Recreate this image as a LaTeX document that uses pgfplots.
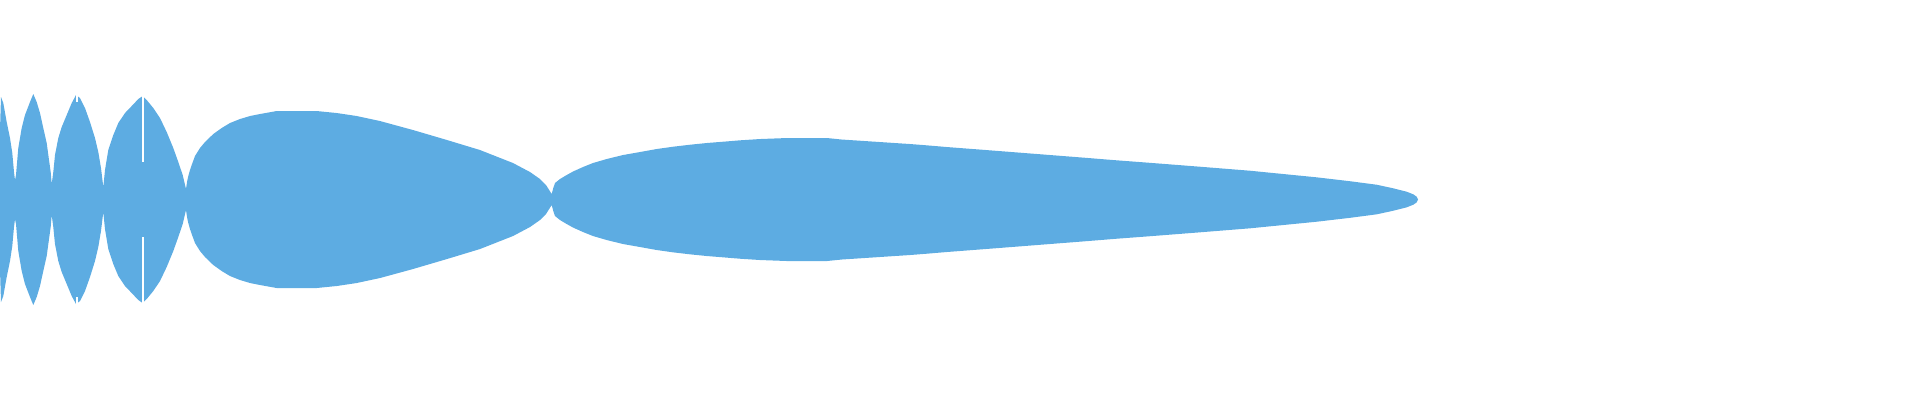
\documentclass[border=0pt]{standalone}
\usepackage{pgfplots}
\pgfplotsset{compat=1.18}
\definecolor{fillc}{HTML}{5DACE2}
\begin{document}
\begin{tikzpicture}
\begin{axis}[
  hide axis, scale only axis, width=19.2cm, height=4cm,
  xmin=0, xmax=1920, ymin=0, ymax=400, y dir=reverse,
  clip=true]
\addplot[fill=fillc, draw=none] coordinates {
(0,130)(1,97)(3.3,103)(6.7,122)(10,138)(12.3,153)(14,172)(15,180)(16,175)(18.3,148)(21.7,128)(25,115)(30,102)(33.3,94)(36.7,102)(40,113)(43.3,128)(46.7,143)(49.3,162)(50.7,172)(51.7,184)(53.3,172)(55,155)(58.3,138)(61.7,127)(66.7,115)(71.7,103)(76,95)(80,98)(85,108)(90,122)(95,138)(98.3,152)(101,168)(103.3,187)(105,170)(108.3,150)(113.3,135)(118.3,123)(125,113)(131.7,106)(138.3,99)(142.7,96)(146.7,100)(153.3,108)(160,118)(166.7,132)(173.3,148)(178.3,162)(182.7,175)(186,189)(187.2,181)(188.3,176)(190,170)(191.7,165)(195,156)(200,148)(205,142)(213.3,134)(221.7,128)(230,123)(240,119)(250,116)(260,114)(276.7,111)(316.7,111)(336.7,113)(356.7,116)(380,121)(413,130)(447,140)(480,150)(513,163)(530,172)(540,179)(546,185)(551.7,194)
(553.3,188)(555,183)(560,179)(566.7,175)(573,171.5)(583,167)(593,163)(606.7,159)(623,155)(640,152)(656.7,149)(673,146.7)(690,144.7)(706.7,143)(723,141.7)(740,140.3)(760,139)(787,138)(827,138)(841.7,139.5)(860,140.7)(876.7,141.8)(893.3,142.9)(910,144)(926.7,145.3)(946.7,147)(983.3,149.8)(1016.7,152.4)(1050,155)(1083.3,157.6)(1116.7,160.3)(1150,162.8)(1200,166.7)(1250,170.7)(1283.3,174)(1316.7,177.3)(1350,181.2)(1376.7,184.7)(1393.3,188.3)(1406.7,191.7)(1413.3,194.3)(1416.7,196.7)(1418,199.5)
(1416.7,202.3)(1413.3,204.7)(1406.7,207.3)(1393.3,210.7)(1376.7,214.3)(1350,217.8)(1316.7,221.7)(1283.3,225)(1250,228.3)(1200,232.3)(1150,236.2)(1116.7,238.7)(1083.3,241.4)(1050,244)(1016.7,246.6)(983.3,249.2)(946.7,252)(926.7,253.7)(910,255)(893.3,256.1)(876.7,257.2)(860,258.3)(841.7,259.5)(827,261)(787,261)(760,260)(740,258.7)(723,257.3)(706.7,256)(690,254.3)(673,252.3)(656.7,250)(640,247)(623,244)(606.7,240)(593,236)(583,232)(573,227.5)(566.7,224)(560,220)(555,216)(553.3,211)
(551.7,205)(546,214)(540,220)(530,227)(513,236)(480,249)(447,259)(413,269)(380,278)(356.7,283)(336.7,286)(316.7,288)(276.7,288)(260,285)(250,283)(240,280)(230,276)(221.7,271)(213.3,265)(205,257)(200,251)(195,243)(191.7,234)(190,229)(188.3,223)(187.2,218)(186,210)(182.7,224)(178.3,237)(173.3,251)(166.7,267)(160,281)(153.3,291)(146.7,299)(142.7,303)(138.3,300)(131.7,293)(125,286)(118.3,276)(113.3,264)(108.3,249)(105,229)(103.3,212)(101,231)(98.3,247)(95,261)(90,277)(85,291)(80,301)(76,304)(71.7,296)(66.7,284)(61.7,272)(58.3,261)(55,244)(53.3,227)(51.7,215)(50.7,227)(49.3,237)(46.7,256)(43.3,271)(40,286)(36.7,297)(33.3,305)(30,297)(25,284)(21.7,271)(18.3,251)(16,224)(15,219)(14,227)(12.3,246)(10,261)(6.7,277)(3.3,296)(1,302)(0,269)
} -- cycle;
\addplot[white, line width=0.4pt] coordinates {(143,95)(143,162)};
\addplot[white, line width=0.4pt] coordinates {(143,237)(143,304)};
\addplot[white, line width=0.4pt] coordinates {(77,94)(77,102)};
\addplot[white, line width=0.4pt] coordinates {(77,297)(77,305)};
\end{axis}
\path[use as bounding box] (0,0) rectangle (19.2cm,4cm);
\end{tikzpicture}
\end{document}
